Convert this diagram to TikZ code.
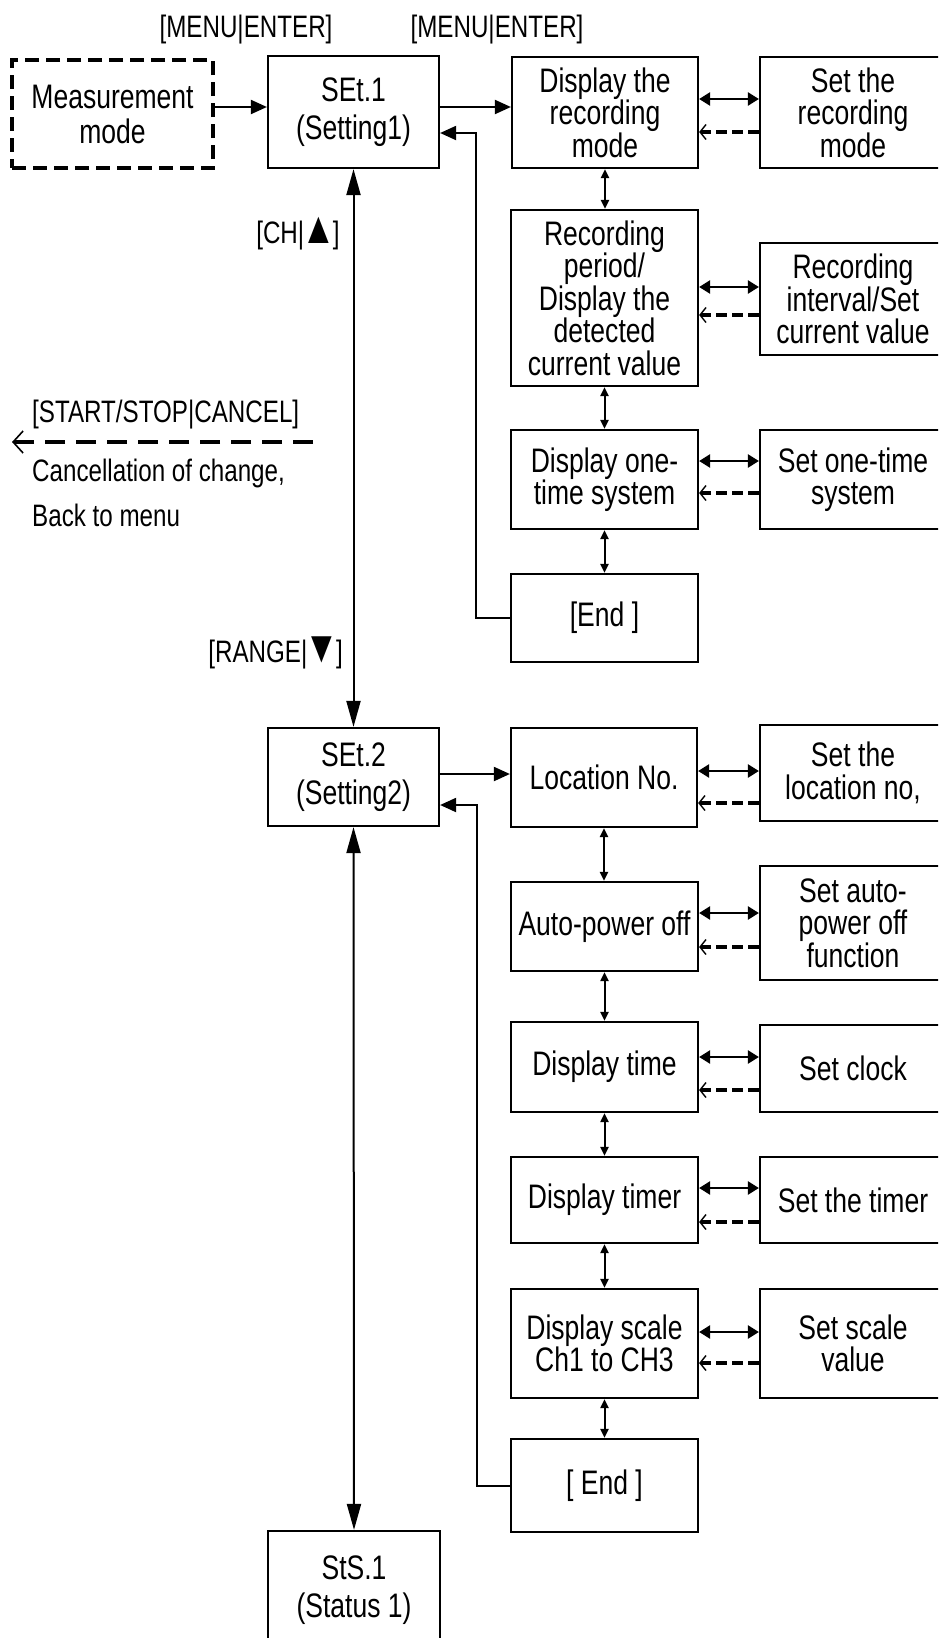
\documentclass[tikz,border=0pt]{standalone}
\usepackage{fontspec}
\setmainfont{Liberation Sans}[FakeStretch=0.78]
\usetikzlibrary{arrows.meta}
\newcommand{\hpair}[4]{%
  \draw[dblh] ([yshift=#3]#1.east) -- ([yshift=#3]#1.east -| #2.west);
  \draw[dret] ([yshift=#4]#1.east -| #2.west) -- ([yshift=#4]#1.east);}
\newcommand{\bigsym}[1]{\kern-3pt{\fontsize{45}{45}\selectfont #1}\kern-3pt}
\begin{document}
\begin{tikzpicture}[x=1pt,y=-1pt,
  box/.style={draw, line width=2.2pt, rectangle, inner sep=0pt, align=center,
    font=\fontsize{34}{32.5}\selectfont},
  lbl/.style={inner sep=0pt, font=\fontsize{31}{33}\selectfont},
  conn/.style={line width=2pt},
  bigarr/.style={conn, -{Triangle[length=16pt,width=14pt]}},
  bigdbl/.style={conn, {Triangle[length=26pt,width=14pt]}-{Triangle[length=26pt,width=14pt]}},
  smdbl/.style={line width=2pt, {Triangle[length=9pt,width=8pt]}-{Triangle[length=9pt,width=8pt]}},
  dblh/.style={line width=2.4pt, {Triangle[length=11pt,width=13pt]}-{Triangle[length=11pt,width=13pt]}},
  dret/.style={line width=4pt, dash pattern=on 11pt off 5pt, -{Straight Barb[length=6pt,width=15pt,line width=1.4pt]}},
  ssline/.style={line width=4pt, dash pattern=on 20pt off 11pt, -{Straight Barb[length=10pt,width=22pt,line width=1.6pt]}}
]
\useasboundingbox (0,0) rectangle (938,1638);
\fill[white] (0,0) rectangle (938,1638);
\clip (0,0) rectangle (938,1638);

% left boxes
\node[box, line width=4pt, dash pattern=on 14pt off 7pt, minimum width=201pt, minimum height=108pt,
  font=\fontsize{34}{35}\selectfont] (meas) at (112.5,114) {Measurement\\mode};
\node[box, minimum width=171pt, minimum height=112pt, font=\fontsize{34}{38}\selectfont] (set1) at (353.5,112) {SEt.1\\(Setting1)};
\node[box, minimum width=171pt, minimum height=98pt, font=\fontsize{34}{38}\selectfont] (set2) at (353.5,777) {SEt.2\\(Setting2)};
\node[box, minimum width=172pt, minimum height=119pt, font=\fontsize{34}{38}\selectfont] (sts1) at (354,1590.5) {StS.1\\(Status 1)};

% middle column
\node[box, minimum width=186pt, minimum height=111pt] (disp1) at (605,112.5) {Display the\\recording\\mode};
\node[box, minimum width=187pt, minimum height=176pt] (rp) at (604.5,298) {Recording\\period/\\Display the\\detected\\current value};
\node[box, minimum width=187pt, minimum height=99pt] (ot) at (604.5,479.5) {Display one-\\time system};
\node[box, minimum width=187pt, minimum height=88pt] (end1) at (604.5,618) {[End ]};
\node[box, minimum width=186pt, minimum height=99pt] (loc) at (604,777.5) {Location No.};
\node[box, minimum width=187pt, minimum height=89pt] (apo) at (604.5,926.5) {Auto-power off};
\node[box, minimum width=187pt, minimum height=90pt] (dtime) at (604.5,1067) {Display time};
\node[box, minimum width=187pt, minimum height=86pt] (dtimer) at (604.5,1200) {Display timer};
\node[box, minimum width=187pt, minimum height=109pt] (dscale) at (604.5,1343.5) {Display scale\\Ch1 to CH3};
\node[box, minimum width=187pt, minimum height=93pt] (end2) at (604.5,1485.5) {[ End ]};

% right column
\node[box, minimum width=186pt, minimum height=111pt] (srec) at (853,112.5) {Set the\\recording\\mode};
\node[box, minimum width=186pt, minimum height=112pt] (rint) at (853,299) {Recording\\interval/Set\\current value};
\node[box, minimum width=186pt, minimum height=99pt] (sot) at (853,479.5) {Set one-time\\system};
\node[box, minimum width=186pt, minimum height=96pt] (sloc) at (853,773) {Set the\\location no,};
\node[box, minimum width=186pt, minimum height=114pt] (sapo) at (853,923) {Set auto-\\power off\\function};
\node[box, minimum width=186pt, minimum height=87pt] (sclock) at (853,1068.5) {Set clock};
\node[box, minimum width=186pt, minimum height=86pt] (stimer) at (853,1200) {Set the timer};
\node[box, minimum width=186pt, minimum height=109pt] (sscale) at (853,1343.5) {Set scale\\value};

% labels
\node[lbl] (lab1) at (246,30) {[MENU|ENTER]};
\node[lbl] (lab2) at (497,30) {[MENU|ENTER]};
\node[lbl] (labch) at (298,234) {[CH|\bigsym{▲}]};
\node[lbl, anchor=east] (labrange) at (343,653) {[RANGE|\bigsym{▼}]};
\node[lbl, anchor=west] (labss) at (32,415) {[START/STOP|CANCEL]};
\node[lbl, anchor=west] (labcanc) at (32,473) {Cancellation of change,};
\node[lbl, anchor=west] (labback) at (32,515) {Back to menu};

% main connectors
\draw[bigarr] ([yshift=7pt]meas.east) -- ([yshift=7pt]meas.east -| set1.west);
\draw[bigarr] ([yshift=5pt]set1.east) -- ([yshift=5pt]set1.east -| disp1.west);
\coordinate (r1) at (476,133);
\draw[bigarr] (end1.west) -| (r1) -- (r1 -| set1.east);
\draw[bigarr] ([yshift=3pt]set2.east) -- ([yshift=3pt]set2.east -| loc.west);
\coordinate (r2) at (477,805);
\draw[bigarr] (end2.west) -| (r2) -- (r2 -| set2.east);
\draw[bigdbl] (set1.south) -- (set2.north);
\draw[bigdbl] (set2.south) -- (sts1.north);

% small vertical double arrows
\draw[smdbl] (disp1.south) -- (disp1.south |- rp.north);
\draw[smdbl] (rp.south) -- (ot.north);
\draw[smdbl] (ot.south) -- (end1.north);
\draw[smdbl] (loc.south) -- (loc.south |- apo.north);
\draw[smdbl] (apo.south) -- (dtime.north);
\draw[smdbl] (dtime.south) -- (dtimer.north);
\draw[smdbl] (dtimer.south) -- (dscale.north);
\draw[smdbl] (dscale.south) -- (end2.north);

% horizontal pairs
\hpair{disp1}{srec}{13.5pt}{-19.5pt}
\hpair{rp}{rint}{11pt}{-17pt}
\hpair{ot}{sot}{18.5pt}{-13.5pt}
\hpair{loc}{sloc}{6.5pt}{-25.5pt}
\hpair{apo}{sapo}{13.5pt}{-20.5pt}
\hpair{dtime}{sclock}{10pt}{-23pt}
\hpair{dtimer}{stimer}{12pt}{-22pt}
\hpair{dscale}{sscale}{11.5pt}{-19.5pt}

% cancel arrow
\coordinate (ssA) at (313,442);
\coordinate (ssB) at (12,442);
\draw[ssline] (ssA) -- (ssB);
\end{tikzpicture}
\end{document}
